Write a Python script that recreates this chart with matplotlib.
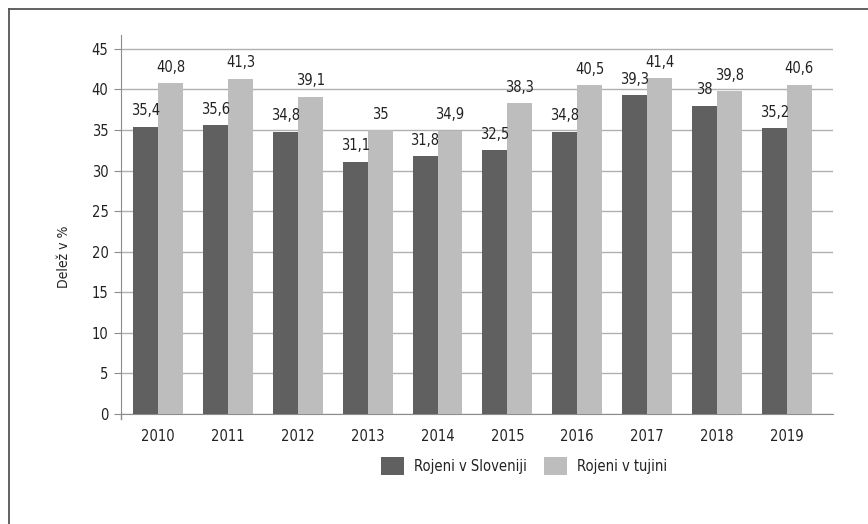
import matplotlib
matplotlib.use("Agg")
import matplotlib.pyplot as plt
import numpy as np
from matplotlib.lines import Line2D

years = ["2010", "2011", "2012", "2013", "2014", "2015", "2016", "2017", "2018", "2019"]
slovenia = [35.4, 35.6, 34.8, 31.1, 31.8, 32.5, 34.8, 39.3, 38.0, 35.2]
abroad = [40.8, 41.3, 39.1, 35.0, 34.9, 38.3, 40.5, 41.4, 39.8, 40.6]
series_names = ["Rojeni v Sloveniji", "Rojeni v tujini"]
yticks = [0, 5, 10, 15, 20, 25, 30, 35, 40, 45]

plt.rcParams["font.family"] = ["DejaVu Sans"]
plt.rcParams["font.stretch"] = "condensed"

fig = plt.figure(figsize=(8.68, 5.24), dpi=100)
ax = fig.add_axes([121/868, 1-414/524, (833-121)/868, (414-35)/524])

x = np.arange(len(years))
w = 0.357
dark = "#5f605f"
light = "#bdbdbd"
txt = "#222222"
b1 = ax.bar(x - w/2, slovenia, w, color=dark, label=series_names[0], zorder=3)
b2 = ax.bar(x + w/2, abroad, w, color=light, label=series_names[1], zorder=3)

def fmt(v):
    s = ("%.1f" % v).rstrip("0").rstrip(".")
    return s.replace(".", ",")

ax.bar_label(b1, labels=[fmt(v) for v in slovenia], padding=6, fontsize=10.5, color=txt)
ax.bar_label(b2, labels=[fmt(v) for v in abroad], padding=6, fontsize=10.5, color=txt)

ax.set_xlim(-0.53, 9.66)
ax.set_ylim(0, 46.7)
ax.set_yticks(yticks)
ax.set_yticklabels([str(t) for t in yticks])
ax.set_xticks(x)
ax.set_xticklabels(years)
ax.yaxis.grid(True, color="#b0b0b0", linewidth=1.0, zorder=0)
for s in ["top", "right"]:
    ax.spines[s].set_visible(False)
ax.spines["left"].set_color("#8c8c8c")
ax.spines["bottom"].set_color("#8c8c8c")
ax.tick_params(axis="y", length=5, color="#8c8c8c", labelsize=10.5, labelcolor=txt, pad=4)
ax.tick_params(axis="x", length=0, labelsize=10.5, labelcolor=txt, pad=11)
fig.text(64/868, 1-257/524, "Delež v %", rotation=90, ha="center", va="center",
         fontsize=10, color=txt)
# small tick below origin
ax.plot([-0.53, -0.53], [0, -0.6], color="#8c8c8c", lw=1, clip_on=False, zorder=4)

fig.legend(handles=[b1, b2], labels=series_names, loc="center", bbox_to_anchor=(0.604, 0.111),
           ncol=2, frameon=False, fontsize=10.5, handlelength=1.55, handleheight=1.55,
           columnspacing=1.2, handletextpad=0.7, labelcolor=txt)

# figure frame (left & top)
fig.add_artist(Line2D([9/868, 9/868], [0, 1-9/524], color="#555555", lw=1.3, transform=fig.transFigure))
fig.add_artist(Line2D([9/868, 1], [1-9/524, 1-9/524], color="#555555", lw=1.3, transform=fig.transFigure))

fig.savefig("out.png", dpi=100)
